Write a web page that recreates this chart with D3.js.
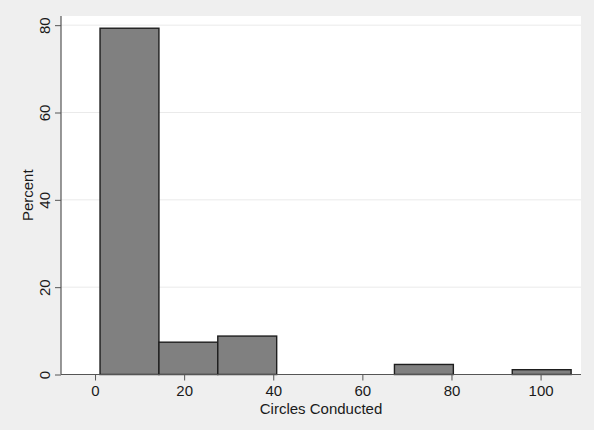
<!DOCTYPE html>
<html>
<head>
<meta charset="utf-8">
<script src="https://cdn.jsdelivr.net/npm/d3@7"></script>
<style>
  html, body { margin: 0; padding: 0; background: #efefef; }
  svg { display: block; }
  text { font-family: "Liberation Sans", Arial, sans-serif; fill: #1a1a1a; }
</style>
</head>
<body>
<svg id="chart" width="594" height="430"></svg>
<script>
// Histogram bins (lower edge, upper edge) and percentages
const binStarts = [1.12, 14.34, 27.55, 40.77, 53.99, 67.2, 80.42, 93.64];
const binEnds   = [14.34, 27.55, 40.77, 53.99, 67.2, 80.42, 93.64, 106.85];
const percents  = [79.3, 7.4, 8.8, 0, 0, 2.3, 0, 1.1];
const xTicks = [0, 20, 40, 60, 80, 100];
const yTicks = [0, 20, 40, 60, 80];
const xTitle = "Circles Conducted";
const yTitle = "Percent";

const svg = d3.select("#chart");
const pL = 61, pR = 581, pT = 16, pB = 374.5;
const FONT = "15px";

const x = d3.scaleLinear().domain([-7.64, 109.07]).range([pL, pR]);
const y = d3.scaleLinear().domain([0, 82.1]).range([pB, pT]);

// plot region
svg.append("rect").attr("x", pL).attr("y", pT)
  .attr("width", pR - pL).attr("height", pB - pT).attr("fill", "#ffffff");

// gridlines
svg.append("g").selectAll("line").data(yTicks.filter(d => d > 0)).join("line")
  .attr("x1", pL).attr("x2", pR)
  .attr("y1", d => y(d)).attr("y2", d => y(d))
  .attr("stroke", "#eaeaea").attr("stroke-width", 1);

// bars
const bins = binStarts.map((s, i) => ({ x0: s, x1: binEnds[i], v: percents[i] })).filter(d => d.v > 0);
svg.append("g").selectAll("rect").data(bins).join("rect")
  .attr("x", d => x(d.x0)).attr("width", d => x(d.x1) - x(d.x0))
  .attr("y", d => y(d.v)).attr("height", d => y(0) - y(d.v))
  .attr("fill", "#808080").attr("stroke", "#1e1e1e").attr("stroke-width", 1.4);

// x axis
const xAxis = svg.append("g").attr("transform", `translate(0,${pB})`)
  .call(d3.axisBottom(x).tickValues(xTicks).tickSize(6).tickPadding(5).tickFormat(d3.format("d")));
xAxis.select(".domain").remove();
xAxis.append("line").attr("x1", pL).attr("x2", pR).attr("y1", 0).attr("y2", 0)
  .attr("stroke", "#555").attr("stroke-width", 1.2);
xAxis.selectAll(".tick line").attr("stroke", "#555");
xAxis.selectAll(".tick text").style("font-size", FONT)
  .style("font-family", "'Liberation Sans', Arial, sans-serif").attr("fill", "#1a1a1a");

// y axis
const yAxis = svg.append("g").attr("transform", `translate(${pL},0)`)
  .call(d3.axisLeft(y).tickValues(yTicks).tickSize(6).tickFormat(d3.format("d")));
yAxis.select(".domain").remove();
yAxis.append("line").attr("x1", 0).attr("x2", 0).attr("y1", pT).attr("y2", pB)
  .attr("stroke", "#555").attr("stroke-width", 1.2);
yAxis.selectAll(".tick line").attr("stroke", "#555");
yAxis.selectAll(".tick text")
  .attr("x", null).attr("dy", null)
  .attr("transform", "translate(-11,0) rotate(-90)")
  .attr("text-anchor", "middle").attr("y", 0)
  .style("font-size", FONT)
  .style("font-family", "'Liberation Sans', Arial, sans-serif").attr("fill", "#1a1a1a");

// titles
svg.append("text").attr("x", (pL + pR) / 2).attr("y", 413.5).attr("text-anchor", "middle")
  .style("font-size", FONT).text(xTitle);
svg.append("text").attr("transform", `translate(33,${(pT + pB) / 2}) rotate(-90)`)
  .attr("text-anchor", "middle").style("font-size", FONT).text(yTitle);
</script>
</body>
</html>
